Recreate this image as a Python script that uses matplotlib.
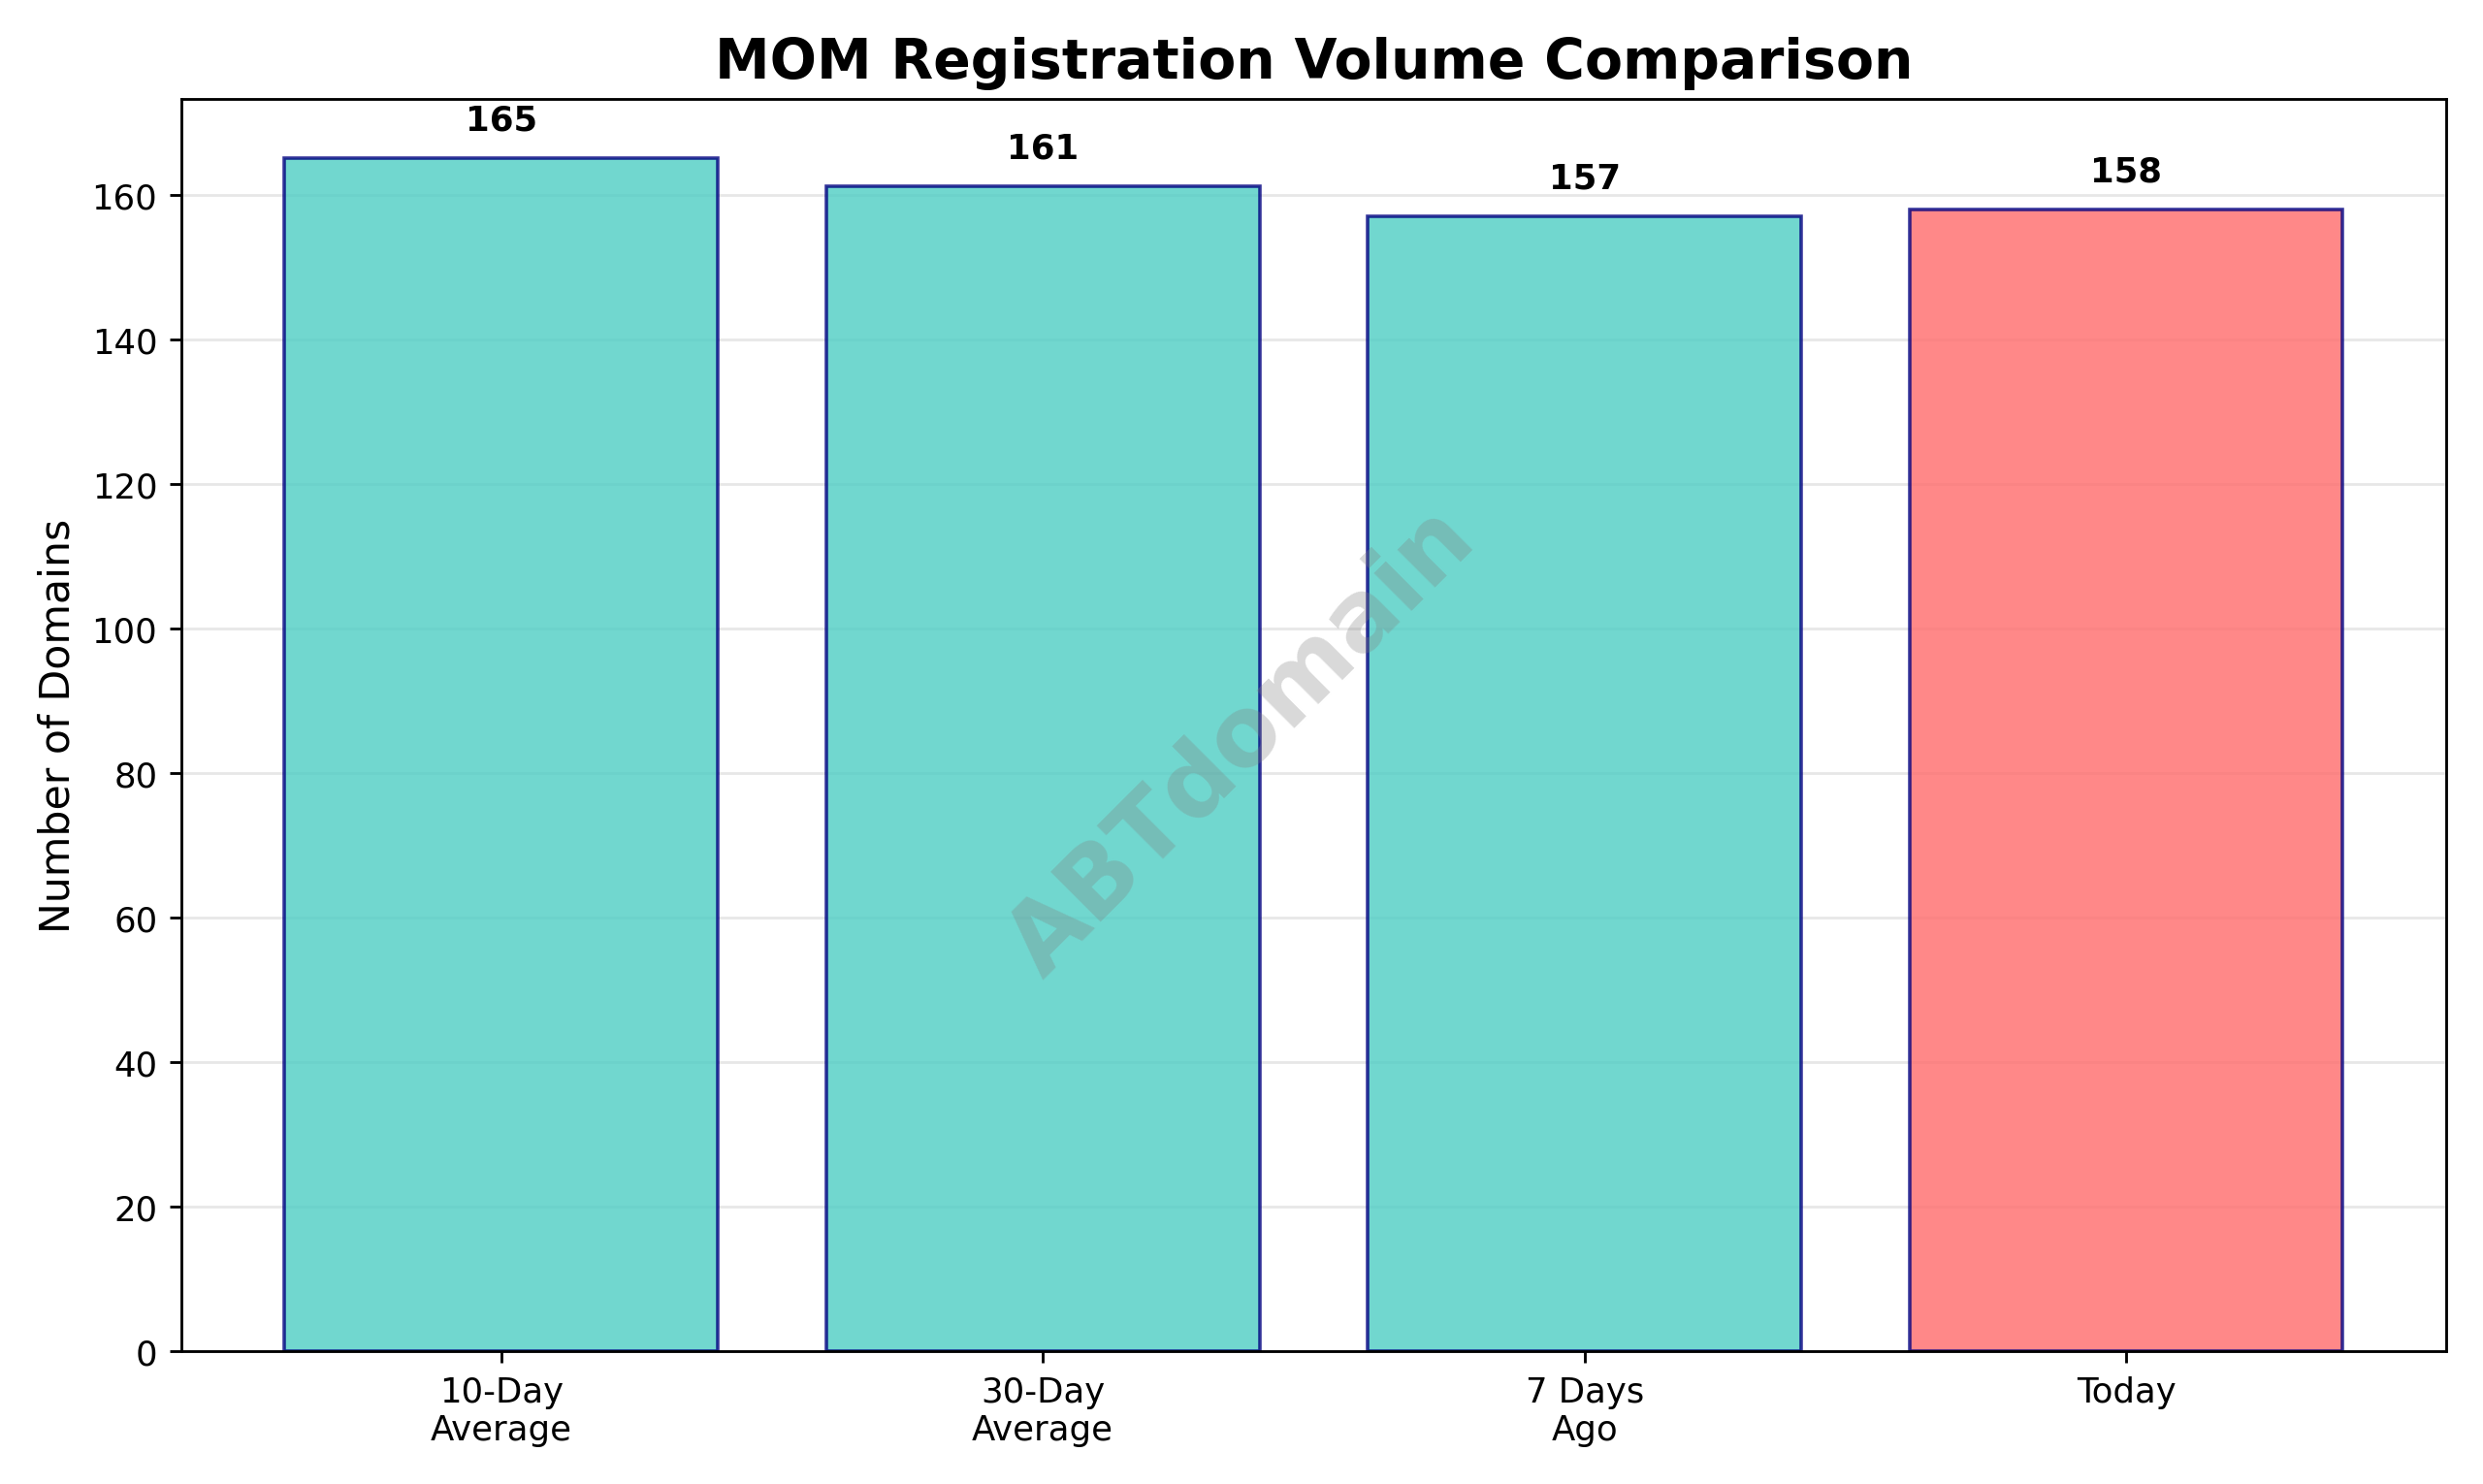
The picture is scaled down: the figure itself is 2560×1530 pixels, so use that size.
import matplotlib.pyplot as plt
import numpy as np

categories = ['10-Day\nAverage', '30-Day\nAverage', '7 Days\nAgo', 'Today']
values = [165, 161.2, 157, 158]
labels = ['165', '161', '157', '158']
colors = ['#4ECDC4', '#4ECDC4', '#4ECDC4', '#FF6B6B']

fig, ax = plt.subplots(figsize=(10, 5.98), dpi=256)
x = np.arange(len(categories))
bars = ax.bar(x, values, color=colors, alpha=0.8, edgecolor='navy', linewidth=1)

for xi, v, lab in zip(x, values, labels):
    ax.text(xi, v + 3, lab, ha='center', va='bottom', fontweight='bold', fontsize=10)

ax.set_xticks(x)
ax.set_xticklabels(categories)
ax.set_ylabel('Number of Domains', fontsize=12)
ax.set_title('MOM Registration Volume Comparison', fontsize=16, fontweight='bold')
ax.set_ylim(0, max(values) * 1.05)
ax.grid(axis='y', alpha=0.3)
ax.set_axisbelow(True)

fig.text(0.5, 0.5, 'ABTdomain', fontsize=28, color='gray', alpha=0.3,
         ha='center', va='center', rotation=45, fontweight='bold')

fig.tight_layout()
plt.savefig('out.png', dpi=256)
